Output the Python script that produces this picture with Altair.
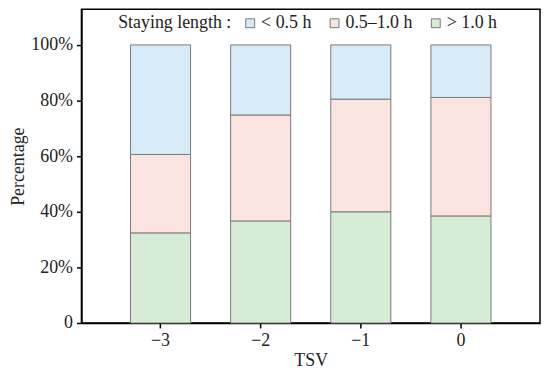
import altair as alt
import pandas as pd

tsv = ["−3", "−2", "−1", "0"]
categories = ["< 0.5 h", "0.5–1.0 h", "> 1.0 h"]
short = [39.4, 25.2, 19.5, 18.9]
mid = [28.2, 38.1, 40.5, 42.6]
long_ = [32.4, 36.7, 40.0, 38.5]
colors = ["#d7eaf8", "#fbe3df", "#d6ecd4"]

rows = []
for i, t in enumerate(tsv):
    for cat, vals, order in [(categories[2], long_, 0), (categories[1], mid, 1), (categories[0], short, 2)]:
        rows.append({"TSV": t, "cat": cat, "value": vals[i] / 100.0, "ord": order})
df = pd.DataFrame(rows)

FONT = "Liberation Serif"
FS = 18

chart = alt.Chart(df).mark_bar(stroke="#7a7a7a", strokeWidth=1).encode(
    x=alt.X("TSV:N", sort=tsv, title="TSV",
            scale=alt.Scale(paddingInner=0.4, paddingOuter=0.49),
            axis=alt.Axis(labelAngle=0, labelFontSize=FS, titleFontSize=FS,
                          labelPadding=4, titlePadding=2, tickSize=5,
                          tickColor="black", tickWidth=1.5, domainColor="black",
                          domainWidth=1.5, labelColor="#222", titleColor="#222",
                          labelFont=FONT, titleFont=FONT, titleFontWeight="normal")),
    y=alt.Y("value:Q", stack="zero", title="Percentage",
            scale=alt.Scale(domain=[0, 1.128], nice=False),
            axis=alt.Axis(values=[0, 0.2, 0.4, 0.6, 0.8, 1.0],
                          labelExpr="datum.value == 0 ? '0' : format(datum.value, '.0%')",
                          grid=False, labelFontSize=FS, titleFontSize=FS,
                          labelPadding=4, titlePadding=3, tickSize=5,
                          tickColor="black", tickWidth=1.5, domainColor="black",
                          domainWidth=1.5, labelColor="#222", titleColor="#222",
                          labelFont=FONT, titleFont=FONT, titleFontWeight="normal")),
    color=alt.Color("cat:N", scale=alt.Scale(domain=categories, range=colors),
                    legend=alt.Legend(title="Staying length :", orient="none",
                                      legendX=37, legendY=5, direction="horizontal",
                                      titleOrient="left", titleFont=FONT, labelFont=FONT,
                                      titleFontSize=FS, labelFontSize=FS,
                                      titleFontWeight="normal", titleColor="#222",
                                      labelColor="#222", symbolType="square",
                                      symbolSize=80, symbolStrokeColor="#7a7a7a",
                                      symbolStrokeWidth=1, labelOffset=2,
                                      columnPadding=14, titlePadding=10)),
    order=alt.Order("ord:Q"),
).properties(
    width=462, height=316,
    autosize=alt.AutoSizeParams(type="none"),
    padding={"left": 74, "top": 0, "right": 2, "bottom": 45},
).configure_view(stroke="black", strokeWidth=1.5)

chart.save("out.html", embed_options={"renderer": "svg", "actions": False})
